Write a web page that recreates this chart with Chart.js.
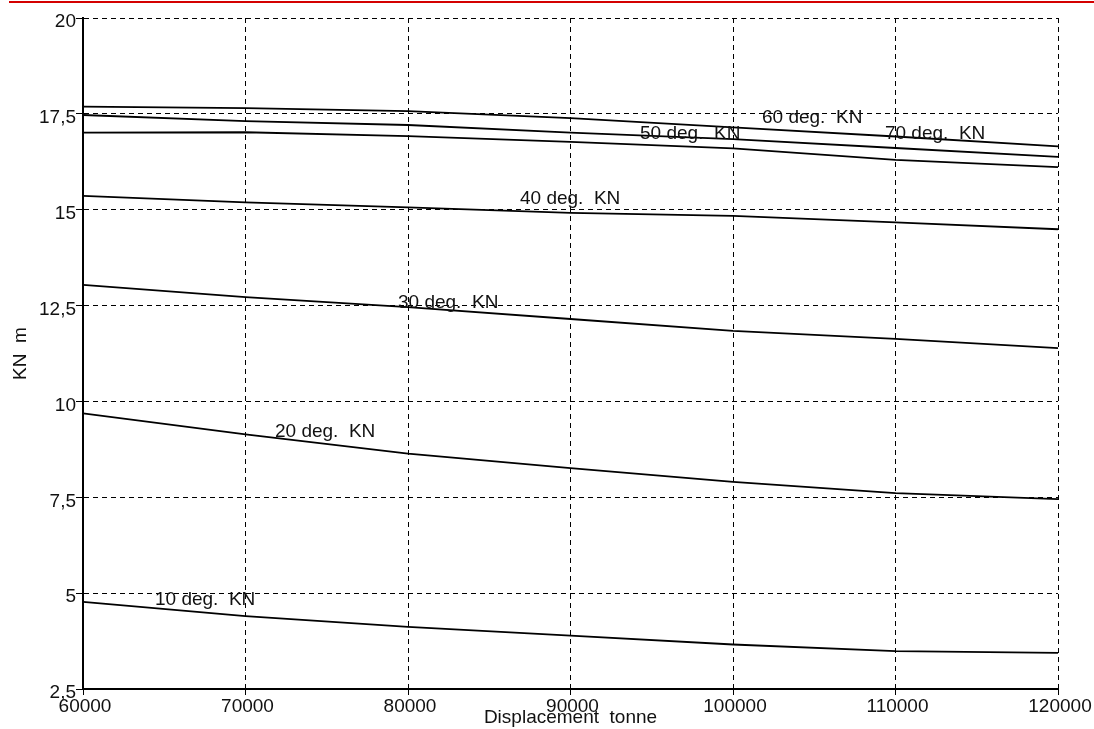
<!DOCTYPE html>
<html>
<head>
<meta charset="utf-8">
<title>KN curves</title>
<script src="https://cdn.jsdelivr.net/npm/chart.js@4/dist/chart.umd.min.js"></script>
<style>
  body { margin: 0; background: #fff; }
  #wrap { position: relative; width: 1094px; height: 729px; }
  #redline { position: absolute; left: 9px; right: 0; top: 1px; height: 2px; background: #d40000; }
</style>
</head>
<body>
<div id="wrap">
  <div id="redline"></div>
  <canvas id="chartKN" width="1094" height="729"></canvas>
</div>
<script>
// displacement in tonne
const displacement = [60000, 70000, 80000, 90000, 100000, 110000, 120000];

// KN (m)
const kn10 = [4.77, 4.40, 4.12, 3.89, 3.66, 3.49, 3.44];
const kn20 = [9.69, 9.14, 8.64, 8.26, 7.90, 7.61, 7.45];
const kn30 = [13.04, 12.72, 12.46, 12.15, 11.84, 11.63, 11.39];
const kn40 = [15.36, 15.19, 15.06, 14.92, 14.84, 14.67, 14.49];
const kn50 = [17.01, 17.02, 16.92, 16.77, 16.60, 16.30, 16.11];
const kn60 = [17.69, 17.65, 17.57, 17.39, 17.15, 16.91, 16.65];
const kn70 = [17.47, 17.31, 17.21, 17.01, 16.84, 16.61, 16.38];

const curveNames = ["10 deg.  KN", "20 deg.  KN", "30 deg.  KN", "40 deg.  KN",
                    "50 deg.  KN", "60 deg.  KN", "70 deg.  KN"];
const curves = [kn10, kn20, kn30, kn40, kn50, kn60, kn70];

// where each curve name is written (x = left of text, y = middle of text)
const labelX = [64430, 71815, 79385, 86890, 94280, 101785, 109350];
const labelY = [4.82, 9.20, 12.57, 15.28, 16.97, 17.39, 16.97];

const yTicks = [2.5, 5, 7.5, 10, 12.5, 15, 17.5, 20];

Chart.defaults.font.family = "'Liberation Sans', Arial, sans-serif";
Chart.defaults.font.size = 19;
Chart.defaults.color = "#111";

const curveLabels = {
  id: "curveLabels",
  afterDatasetsDraw(chart) {
    const { ctx, scales: { x, y } } = chart;
    ctx.save();
    ctx.font = "19px 'Liberation Sans', Arial, sans-serif";
    ctx.fillStyle = "#111";
    ctx.textAlign = "left";
    ctx.textBaseline = "middle";
    curveNames.forEach((name, i) => {
      ctx.fillText(name, x.getPixelForValue(labelX[i]), y.getPixelForValue(labelY[i]));
    });
    ctx.restore();
  },
};

new Chart(document.getElementById("chartKN").getContext("2d"), {
  type: "line",
  plugins: [curveLabels],
  data: {
    datasets: curves.map((values, i) => ({
      label: curveNames[i],
      data: displacement.map((d, j) => ({ x: d, y: values[j] })),
      borderColor: "#000",
      borderWidth: 1.8,
      pointRadius: 0,
      tension: 0,
      fill: false,
    })),
  },
  options: {
    responsive: false,
    animation: false,
    layout: { padding: { top: 18, right: 36, left: 0, bottom: 0 } },
    plugins: {
      legend: { display: false },
      tooltip: { enabled: false },
    },
    scales: {
      x: {
        type: "linear",
        min: 60000,
        max: 120000,
        afterFit(scale) {
          scale.height = 40;
          scale.paddingLeft = 0;
          scale.paddingRight = 0;
        },
        ticks: {
          stepSize: 10000,
          padding: 0,
          labelOffset: 2,
          maxRotation: 0,
          autoSkip: false,
          callback: (v) => String(v),
        },
        grid: {
          color: "#000",
          lineWidth: 1,
          tickLength: 6,
          tickColor: "#000",
          tickBorderDash: [],
        },
        border: { display: true, color: "#000", width: 2, dash: [5, 4] },
        title: {
          display: true,
          text: "Displacement  tonne",
          padding: { top: 0, bottom: 0 },
        },
      },
      y: {
        min: 2.5,
        max: 20,
        afterFit(scale) {
          scale.width = 83;
        },
        afterBuildTicks(scale) {
          scale.ticks = yTicks.map((v) => ({ value: v }));
        },
        ticks: {
          padding: 0,
          labelOffset: 4,
          callback: (v) => String(v).replace(".", ","),
        },
        grid: {
          color: "#000",
          lineWidth: 1,
          tickLength: 7,
          tickColor: "#000",
          tickBorderDash: [],
        },
        border: { display: true, color: "#000", width: 2, dash: [5, 4] },
        title: {
          display: true,
          text: "KN  m",
          padding: { top: 9, bottom: 0 },
        },
      },
    },
  },
});
</script>
</body>
</html>
